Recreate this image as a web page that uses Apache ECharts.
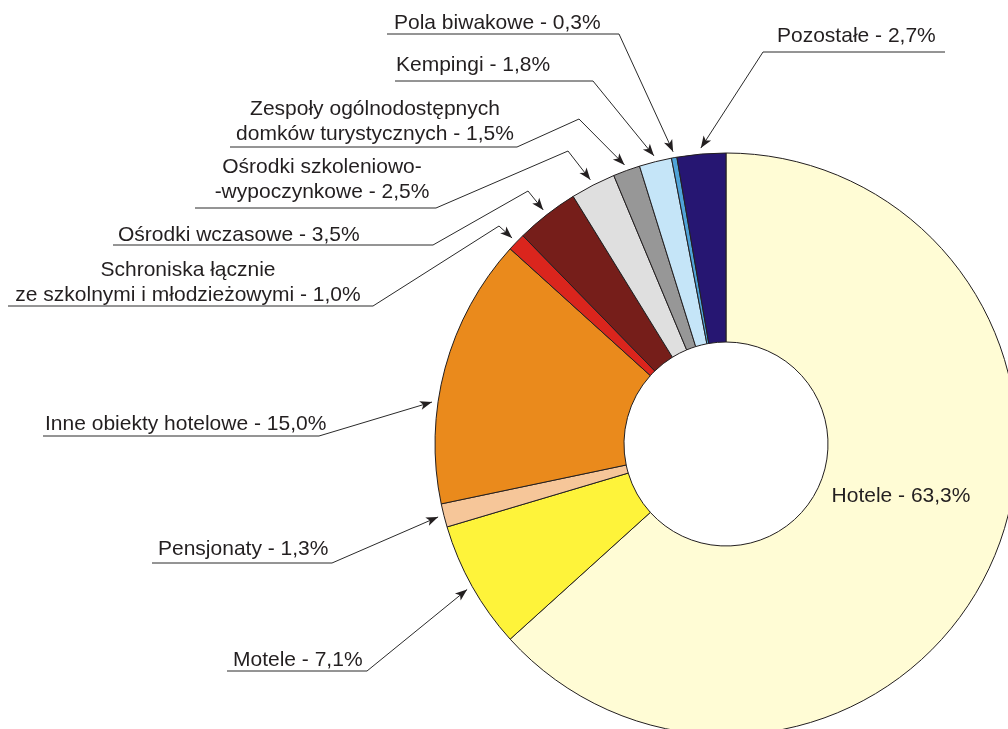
<!DOCTYPE html>
<html>
<head>
<meta charset="utf-8">
<title>Struktura obiektów noclegowych</title>
<script src="https://cdn.jsdelivr.net/npm/echarts@6.0.0/dist/echarts.min.js"></script>
<style>
  html, body { margin: 0; padding: 0; background: #fff; }
  #main { width: 1008px; height: 729px; }
</style>
</head>
<body>
<div id="main"></div>
<script>
// dane z wykresu (udział w %)
var categories = [
  'Hotele',
  'Motele',
  'Pensjonaty',
  'Inne obiekty hotelowe',
  'Schroniska łącznie\nze szkolnymi i młodzieżowymi',
  'Ośrodki wczasowe',
  'Ośrodki szkoleniowo-\n-wypoczynkowe',
  'Zespoły ogólnodostępnych\ndomków turystycznych',
  'Kempingi',
  'Pola biwakowe',
  'Pozostałe'
];
var shares = [63.3, 7.1, 1.3, 15.0, 1.0, 3.5, 2.5, 1.5, 1.8, 0.3, 2.7];

var colors = [
  '#FFFCD5', '#FEF33A', '#F6C699', '#EA8A1C', '#DA251D', '#761E1A',
  '#DFDFDF', '#979797', '#C5E5F8', '#4FA3D8', '#261672'
];

// geometria pierścienia
var CX = 726, CY = 444, R_IN = 102, R_OUT = 291, R_TIP = 297;

// miejsca opisów: tekst (x, y, align) + łamana odnośnika (od strony wykresu)
var spots = [
  { x: 901, y: 496, align: 'center' },
  { x: 233, y: 660, align: 'left', path: [[367, 671], [227, 671]] },
  { x: 158, y: 549, align: 'left', path: [[332, 563], [152, 563]] },
  { x: 45, y: 424, align: 'left', path: [[319, 436], [43, 436]], shift: -7 },
  { x: 188, y: 283, align: 'center', path: [[499, 226], [373, 306], [8, 306]] },
  { x: 118, y: 235, align: 'left', path: [[528, 191], [433, 245], [113, 245]] },
  { x: 322, y: 180, align: 'center', path: [[568, 151], [436, 208], [195, 208]] },
  { x: 375, y: 122, align: 'center', path: [[579, 119], [517, 147], [230, 147]] },
  { x: 396, y: 65, align: 'left', path: [[593, 81], [395, 81]] },
  { x: 394, y: 23, align: 'left', path: [[619, 34], [387, 34]] },
  { x: 777, y: 36, align: 'left', path: [[763, 52], [945, 52]] }
];

var total = shares.reduce(function (a, b) { return a + b; }, 0);

function midAngle(i) {
  var before = 0;
  for (var k = 0; k < i; k++) before += shares[k];
  return (before + shares[i] / 2) / total * 360;
}

function polar(deg, r) {
  var a = deg * Math.PI / 180;
  return [CX + r * Math.sin(a), CY - r * Math.cos(a)];
}

function tipOf(i) {
  return polar(midAngle(i) + (spots[i].shift || 0), R_TIP);
}

// groty strzałek
var arrows = [];
spots.forEach(function (s, i) {
  if (!s.path) return;
  var tip = tipOf(i);
  var from = s.path[0];
  var dx = tip[0] - from[0], dy = tip[1] - from[1];
  var len = Math.sqrt(dx * dx + dy * dy);
  dx /= len; dy /= len;
  var bx = tip[0] - dx * 12, by = tip[1] - dy * 12;
  arrows.push({
    type: 'polygon',
    silent: true,
    z: 10,
    shape: {
      points: [tip, [bx - dy * 4.5, by + dx * 4.5], [tip[0] - dx * 9, tip[1] - dy * 9], [bx + dy * 4.5, by - dx * 4.5]]
    },
    style: { fill: '#231F20' }
  });
});

var pieData = categories.map(function (name, i) {
  var item = { name: name, value: shares[i], itemStyle: { color: colors[i] } };
  if (i === 0) item.labelLine = { show: false };
  return item;
});

var chart = echarts.init(document.getElementById('main'));
chart.setOption({
  backgroundColor: '#ffffff',
  animation: false,
  graphic: arrows,
  series: [
    {
      type: 'pie',
      center: [CX, CY],
      radius: [R_IN, R_OUT],
      startAngle: 90,
      clockwise: true,
      avoidLabelOverlap: false,
      emphasis: { disabled: true },
      itemStyle: { borderColor: '#231F20', borderWidth: 1 },
      label: {
        show: true,
        color: '#231F20',
        fontFamily: 'Liberation Sans, Arial, sans-serif',
        fontSize: 21,
        lineHeight: 25,
        formatter: function (p) {
          return p.name + ' - ' + p.value.toFixed(1).replace('.', ',') + '%';
        }
      },
      labelLine: {
        show: true,
        lineStyle: { color: '#2a2a2a', width: 1 }
      },
      labelLayout: function (params) {
        var i = params.dataIndex;
        var s = spots[i];
        var out = { x: s.x, y: s.y, align: s.align, verticalAlign: 'middle' };
        if (s.path) out.labelLinePoints = [tipOf(i)].concat(s.path);
        return out;
      },
      data: pieData
    }
  ]
});
</script>
</body>
</html>
